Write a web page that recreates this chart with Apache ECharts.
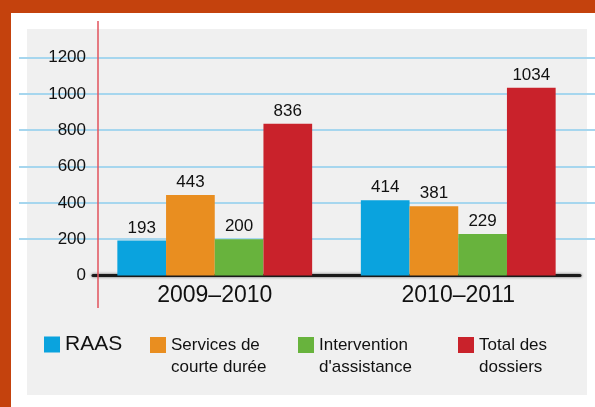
<!DOCTYPE html>
<html>
<head>
<meta charset="utf-8">
<script src="https://cdn.jsdelivr.net/npm/echarts@6/dist/echarts.min.js"></script>
<style>
	html, body { margin: 0; padding: 0; }
	#main { width: 595px; height: 407px; }
</style>
</head>
<body>
<div id="main"></div>
<script>
const years = ["2009–2010", "2010–2011"];
const seriesNames = ["RAAS", "Services de courte durée", "Intervention d'assistance", "Total des dossiers"];
const legendLabels = ["RAAS", "\nServices de\ncourte durée", "\nIntervention\nd'assistance", "\nTotal des\ndossiers"];
const raas = [193, 414];
const courteDuree = [443, 381];
const assistance = [200, 229];
const totalDossiers = [836, 1034];
const yTicks = [0, 200, 400, 600, 800, 1000, 1200];

const colors = ["#0aa3de", "#e98e20", "#68b33d", "#c9222b"];
const font = "'Liberation Sans Narrow', 'Liberation Sans', sans-serif";
const values = [raas, courteDuree, assistance, totalDossiers];

const chart = echarts.init(document.getElementById("main"), null, { renderer: "canvas" });

// legend boxes are placed one by one, like the original
// (the leading empty line keeps the first text line level with the swatch)
const legendLeft = [44, 150, 298, 458];
const legendTop = [334, 312, 312, 312];

const option = {
	backgroundColor: "#c4420d",
	animation: false,
	textStyle: { fontFamily: font, color: "#111" },
	graphic: [
		{ type: "rect", z: -20, shape: { x: 11, y: 13, width: 584, height: 394 }, style: { fill: "#ffffff" } },
		{ type: "rect", z: -19, shape: { x: 27, y: 29, width: 560, height: 366 }, style: { fill: "#f0f0f0" } },
		{ type: "line", z: 5, shape: { x1: 98, y1: 21, x2: 98, y2: 308 }, style: { stroke: "#e2535c", lineWidth: 1.5 } },
	],
	grid: [
		{ left: 93, right: 15, top: 57.5, bottom: 131.5 },
		{ left: 19, right: 0, top: 57.5, bottom: 167.8 },
	],
	xAxis: [
		{
			type: "category",
			gridIndex: 0,
			data: years,
			axisTick: { show: false },
			axisLine: {
				lineStyle: { color: "#1a1a1a", width: 3, shadowBlur: 3, shadowColor: "rgba(0,0,0,0.6)" },
			},
			axisLabel: { fontSize: 23, color: "#111", margin: 9 },
		},
		{ type: "value", gridIndex: 1, show: false },
	],
	yAxis: [
		{
			type: "value",
			gridIndex: 0,
			min: yTicks[0],
			max: yTicks[yTicks.length - 1],
			interval: 200,
			axisLine: { show: false },
			axisTick: { show: false },
			splitLine: { show: false },
			axisLabel: { fontSize: 17, color: "#111", margin: 7, formatter: (v) => String(v) },
		},
		{
			type: "value",
			gridIndex: 1,
			min: 200,
			max: 1200,
			interval: 200,
			axisLine: { show: false },
			axisTick: { show: false },
			axisLabel: { show: false },
			splitLine: { lineStyle: { color: "#a6d6ee", width: 2 } },
		},
	],
	legend: seriesNames.map((name, i) => ({
		data: [name],
		left: legendLeft[i],
		top: legendTop[i],
		padding: 0,
		itemWidth: 16,
		itemHeight: 16,
		icon: "rect",
		formatter: () => legendLabels[i],
		textStyle: i === 0
			? { fontSize: 21, color: "#111", fontFamily: font }
			: { fontSize: 17, lineHeight: 22, color: "#111", fontFamily: font },
	})),
	series: seriesNames.map((name, i) => ({
		name: name,
		type: "bar",
		xAxisIndex: 0,
		yAxisIndex: 0,
		data: values[i],
		barGap: "0%",
		barCategoryGap: "20%",
		itemStyle: { color: colors[i] },
		label: { show: true, position: "top", distance: 4, fontSize: 17, color: "#111", fontFamily: font },
	})),
};

chart.setOption(option);
</script>
</body>
</html>
